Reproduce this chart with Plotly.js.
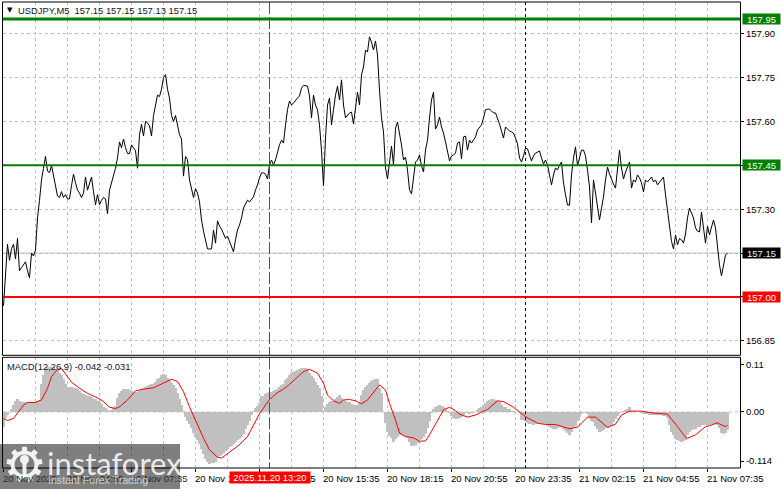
<!DOCTYPE html>
<html>
<head>
<meta charset="utf-8">
<script src="https://cdn.plot.ly/plotly-3.0.1.min.js"></script>
<style>html,body{margin:0;padding:0;background:#fff}#c{width:781px;height:489px}</style>
</head>
<body>
<div id="c"></div>
<script>
const firstBarTime = Date.UTC(2025,10,20,2,15);
const barMinutes = 5;
const closeValues = [
156.97,157.09,157.18,157.125,157.165,157.18,157.13,157.20,157.09,157.10,
157.11,157.12,157.09,157.065,157.15,157.14,157.16,157.27,157.33,157.40,
157.44,157.48,157.43,157.425,157.45,157.41,157.375,157.345,157.34,157.36,
157.34,157.35,157.335,157.335,157.38,157.42,157.39,157.365,157.355,157.34,
157.355,157.41,157.365,157.39,157.41,157.36,157.315,157.35,157.315,157.33,
157.34,157.335,157.285,157.365,157.39,157.41,157.44,157.475,157.53,157.51,
157.54,157.51,157.49,157.49,157.52,157.51,157.50,157.44,157.555,157.59,
157.55,157.60,157.595,157.585,157.55,157.62,157.65,157.69,157.685,157.71,
157.75,157.76,157.71,157.68,157.62,157.60,157.62,157.585,157.555,157.54,
157.413,157.48,157.47,157.40,157.365,157.34,157.37,157.355,157.325,157.263,
157.225,157.19,157.164,157.164,157.164,157.229,157.184,157.26,157.242,157.232,
157.215,157.20,157.208,157.188,157.174,157.154,157.195,157.229,157.246,157.27,
157.304,157.318,157.331,157.325,157.335,157.342,157.366,157.383,157.407,157.424,
157.424,157.42,157.403,157.451,157.468,157.451,157.468,157.50,157.52,157.536,
157.526,157.588,157.64,157.67,157.656,157.663,157.673,157.68,157.687,157.714,
157.723,157.723,157.721,157.687,157.612,157.69,157.656,157.64,157.588,157.50,
157.379,157.543,157.656,157.68,157.588,157.64,157.69,157.72,157.673,157.742,
157.656,157.612,157.622,157.629,157.632,157.591,157.646,157.70,157.656,157.759,
157.786,157.844,157.837,157.889,157.871,157.844,157.875,157.827,157.707,157.612,
157.564,157.441,157.403,157.461,157.516,157.451,157.577,157.598,157.564,157.519,
157.468,157.478,157.434,157.366,157.352,157.40,157.461,157.468,157.485,157.448,
157.427,157.502,157.536,157.612,157.673,157.70,157.574,157.588,157.615,157.581,
157.56,157.53,157.495,157.465,157.482,157.485,157.492,157.526,157.53,157.472,
157.547,157.55,157.502,157.536,157.526,157.536,157.547,157.571,157.581,157.588,
157.612,157.64,157.642,157.642,157.636,157.629,157.629,157.612,157.591,157.567,
157.543,157.581,157.574,157.567,157.564,157.56,157.543,157.523,157.475,157.461,
157.482,157.509,157.506,157.482,157.465,157.482,157.492,157.495,157.499,157.475,
157.454,157.468,157.451,157.417,157.383,157.417,157.441,157.434,157.451,157.461,
157.39,157.349,157.314,157.314,157.417,157.475,157.513,157.448,157.475,157.502,
157.502,157.482,157.434,157.376,157.253,157.40,157.355,157.307,157.263,157.304,
157.342,157.40,157.444,157.42,157.40,157.386,157.372,157.451,157.502,157.441,
157.403,157.427,157.448,157.461,157.372,157.40,157.393,157.417,157.407,157.39,
157.359,157.40,157.393,157.40,157.41,157.393,157.40,157.383,157.393,157.40,
157.41,157.349,157.29,157.229,157.19,157.164,157.212,157.178,157.20,157.195,
157.184,157.215,157.27,157.304,157.287,157.27,157.236,157.225,157.222,157.29,
157.236,157.184,157.242,157.212,157.239,157.263,157.236,157.167,157.109,157.072,
157.109,157.143,157.15];
const macdValues = [
-.034,-.015,-.007,0,.006,.016,.026,.029,.026,.024,
.024,.024,.024,.023,.024,.024,.024,.026,.028,.066,
.086,.099,.104,.105,.105,.104,.099,.097,.091,.086,
.076,.066,.059,.057,.057,.056,.055,.053,.049,.043,
.041,.039,.037,.036,.034,.031,.029,.026,.022,.018,
.012,.009,.004,.002,.005,.009,.014,.032,.043,.049,
.053,.053,.053,.051,.049,.047,.046,.046,.049,.053,
.056,.059,.060,.063,.065,.066,.070,.076,.080,.085,
.088,.085,.080,.074,.068,.063,.055,.043,.030,.016,
.002,-.012,-.020,-.028,-.038,-.049,-.057,-.065,-.074,-.087,
-.097,-.110,-.117,-.121,-.119,-.119,-.115,-.107,-.102,-.100,
-.096,-.090,-.087,-.082,-.079,-.075,-.070,-.066,-.063,-.059,
-.051,-.040,-.030,-.020,-.007,.002,.009,.014,.020,.037,
.038,.041,.043,.046,.047,.049,.050,.053,.059,.063,
.066,.074,.079,.085,.090,.093,.096,.098,.100,.101,
.101,.101,.099,.091,.084,.078,.070,.063,.056,.036,
.003,.011,.018,.024,.026,.026,.029,.034,.039,.033,
.028,.026,.024,.022,.019,.016,.016,.017,.020,.039,
.051,.059,.063,.068,.072,.074,.076,.077,.055,.043,
-.001,-.026,-.046,-.056,-.061,-.069,-.063,-.059,-.053,-.053,
-.056,-.057,-.060,-.069,-.079,-.080,-.077,-.071,-.066,-.063,
-.059,-.052,-.038,-.022,-.003,.008,.012,.014,.016,.015,
.012,.006,.002,-.003,-.009,-.015,-.016,-.016,-.015,-.011,
-.007,-.003,-.003,-.005,-.003,-.002,.001,.005,.009,.011,
.016,.020,.026,.028,.029,.030,.028,.026,.022,.016,
.012,.011,.008,.006,.003,.002,.001,0,-.002,-.019,
-.019,-.021,-.025,-.028,-.029,-.030,-.029,-.028,-.026,-.026,
-.027,-.029,-.032,-.035,-.037,-.039,-.040,-.038,-.036,-.036,
-.039,-.043,-.049,-.053,-.046,-.038,-.032,-.022,-.012,-.005,
-.002,.001,-.005,-.014,-.020,-.024,-.032,-.040,-.046,-.044,
-.042,-.038,-.035,-.032,-.030,-.024,-.017,-.009,-.003,.001,
.002,.005,.008,.011,.003,.001,0,-.001,-.001,-.002,
-.004,-.005,-.005,-.006,-.007,-.007,-.007,-.007,-.007,-.008,
-.009,-.010,-.015,-.030,-.046,-.053,-.063,-.065,-.067,-.069,
-.068,-.065,-.053,-.046,-.042,-.040,-.039,-.036,-.034,-.031,
-.030,-.030,-.031,-.030,-.029,-.028,-.029,-.031,-.038,-.049,
-.051,-.048,-.042];
const signalBars = [0,2,5,7,10,12,16,19,22,24,27,29,32,34,38,42,47,50,53,56,58,62,66,70,75,80,84,87,90,93,97,100,103,107,109,112,118,122,125,128,
131,133,137,140,143,147,150,153,157,160,162,165,168,170,173,176,179,182,186,188,191,193,196,198,201,205,208,211,213,217,220,223,226,228,232,236,242,247,250,255,258,
261,267,271,276,280,283,287,290,292,296,299,302,306,309,313,319,324,332,337,341,342,346,351,353,357,358,361,362];
const signalValues = [-.015,-.020,-.015,-.003,.016,.022,.022,.028,.055,.082,.099,.101,.082,.069,.055,.043,.033,.024,.011,.008,.012,.028,.049,.053,.056,.068,.076,.071,.047,.012,-.030,-.061,-.088,-.105,-.107,-.096,-.076,-.057,-.030,-.004,
.016,.029,.045,.053,.064,.080,.094,.099,.090,.067,.039,.026,.020,.028,.029,.026,.019,.028,.053,.063,.051,.020,-.019,-.049,-.057,-.060,-.068,-.067,-.053,-.019,.005,.011,.003,-.005,-.012,-.007,.006,.026,.024,.011,.001,
-.011,-.026,-.029,-.029,-.034,-.039,-.035,-.022,-.012,-.012,-.025,-.036,-.028,-.007,.002,.002,-.002,-.005,-.034,-.059,-.061,-.053,-.034,-.032,-.025,-.028,-.034,-.031];
const priceTicks = [157.90,157.75,157.60,157.45,157.30,157.15,157.00,156.85];
const macdTicks = [0.11,0,-0.114];
const macdTickText = ['0.11','0.00','-0.114'];
const levelValues = [157.95,157.45,157.00];
const levelColors = ['#008000','#008000','#ff0000'];
const levelWidths = [3,2,2];
const bidValue = 157.15;
const timeLabelBars = [0,32,64,96,128,160,192,224,256,288,320,352];
const timeLabelText = ['20 Nov 2025','20 Nov 04:55','20 Nov 07:35','20 Nov 10:15','20 Nov 12:55','20 Nov 15:35','20 Nov 18:15','20 Nov 20:55','20 Nov 23:35','21 Nov 02:15','21 Nov 04:55','21 Nov 07:35'];
const cursorBar = 133, cursorText = '2025.11.20 13:20';
const daySepBar = 261;
const headerText = 'USDJPY,M5  157.15 157.15 157.13 157.15';
const macdText = 'MACD(12,26,9) -0.042 -0.031';

const W=781,H=489,L=3,R=740,T=2,B=468;
const FONT='"Liberation Sans", Arial, sans-serif';
const FS=9.5;
const t = i => firstBarTime + i*barMinutes*60000;
const px = x => (x-L)/(R-L);
const py = y => (B-y)/(B-T);
const times = closeValues.map((_,i)=>t(i));

const traces = [
 {type:'bar',x:times,y:macdValues,width:times.map(()=>6*60000),xaxis:'x',yaxis:'y2',marker:{color:'#c0c0c0',line:{width:0}},hoverinfo:'skip'},
 {type:'scatter',mode:'lines',x:signalBars.map(t),y:signalValues,xaxis:'x',yaxis:'y2',line:{color:'#ff0000',width:1},hoverinfo:'skip'},
 {type:'scatter',mode:'lines',x:times,y:closeValues,xaxis:'x',yaxis:'y',line:{color:'#000000',width:1},hoverinfo:'skip'}
];

const shapes = [];
shapes.push({type:'line',xref:'paper',x0:0,x1:1,yref:'y',y0:bidValue,y1:bidValue,line:{color:'#c0c0c0',width:1},layer:'below'});
shapes.push({type:'line',xref:'paper',x0:0,x1:1,yref:'y2',y0:0,y1:0,line:{color:'#c0c0c0',width:1,dash:'3px,3px'},layer:'below'});
levelValues.forEach((v,i)=>shapes.push({type:'line',xref:'paper',x0:0,x1:1,yref:'y',y0:v,y1:v,line:{color:levelColors[i],width:levelWidths[i]}}));
[[2,355.3],[357.3,468]].forEach(p=>{
  shapes.push({type:'line',xref:'x',x0:t(cursorBar),x1:t(cursorBar),yref:'paper',y0:py(p[0]),y1:py(p[1]),line:{color:'#e0102a',width:1,dash:'12px,3px'}});
  shapes.push({type:'line',xref:'x',x0:t(daySepBar),x1:t(daySepBar),yref:'paper',y0:py(p[0]),y1:py(p[1]),line:{color:'#000',width:1,dash:'3px,3px'}});
  shapes.push({type:'rect',xref:'paper',yref:'paper',x0:px(2.5),x1:px(740.5),y0:py(p[0]),y1:py(p[1]),line:{color:'#000',width:1},fillcolor:'rgba(0,0,0,0)'});
});
// watermark
shapes.push({type:'rect',xref:'paper',yref:'paper',x0:px(0),x1:px(180),y0:py(444),y1:py(489),line:{width:0},fillcolor:'rgba(0,0,0,0.5)'});
function gearPath(cx,cy){
  let d='';const teeth=9,ro=18,ri=14;
  for(let k=0;k<teeth;k++){
    const a=k*2*Math.PI/teeth, w=0.17, g=0.19;
    [[a-g,ri],[a-w*0.8,ro],[a+w*0.8,ro],[a+g,ri]].forEach((q,j)=>{
      const X=px(cx+q[1]*Math.sin(q[0])),Y=py(cy-q[1]*Math.cos(q[0]));
      d+=(k==0&&j==0?'M':'L')+X+' '+Y+' ';
    });
  }
  d+='Z ';
  const hole=10;
  for(let k=0;k<24;k++){const a=k*2*Math.PI/24;d+=(k==0?'M':'L')+px(cx+hole*Math.sin(a))+' '+py(cy-hole*Math.cos(a))+' ';}
  return d+'Z';
}
shapes.push({type:'path',xref:'paper',yref:'paper',path:gearPath(24.5,464.5),fillcolor:'rgba(255,255,255,0.9)',line:{width:0}});
shapes.push({type:'circle',xref:'paper',yref:'paper',x0:px(20),x1:px(29),y0:py(455),y1:py(464),fillcolor:'rgba(255,255,255,0.9)',line:{width:0}});
shapes.push({type:'rect',xref:'paper',yref:'paper',x0:px(22.5),x1:px(26.5),y0:py(463),y1:py(478),fillcolor:'rgba(255,255,255,0.9)',line:{width:0}});

const ann=[];
const boxes=[[157.95,'157.95','#008000','#fff'],[157.45,'157.45','#008000','#fff'],[157.15,'157.15','#000','#e8f4ff'],[157.00,'157.00','#ff0000','#fff']];
boxes.forEach(b=>ann.push({xref:'paper',yref:'y',x:px(741.5),y:b[0],xanchor:'left',yanchor:'middle',text:b[1],showarrow:false,bgcolor:b[2],font:{family:FONT,size:FS,color:b[3]},width:37,height:10,borderpad:0,align:'center'}));
timeLabelBars.forEach((n,i)=>ann.push({xref:'x',yref:'paper',x:t(n),y:py(478),xanchor:'left',yanchor:'middle',xshift:-3,text:timeLabelText[i],showarrow:false,font:{family:FONT,size:FS,color:n<=64?'#2a2a2a':'#000'}}));
ann.push({xref:'x',yref:'paper',x:t(cursorBar),y:py(477.5),xanchor:'center',yanchor:'middle',text:cursorText,showarrow:false,bgcolor:'#ff0000',font:{family:FONT,size:FS,color:'#fff'},width:80,height:11,borderpad:0,align:'center'});
ann.push({xref:'paper',yref:'paper',x:px(16),y:py(10.5),xanchor:'left',yanchor:'middle',text:headerText.replace(/  /g,'\u00a0\u00a0'),showarrow:false,font:{family:FONT,size:9.4,color:'#101828'}});
ann.push({xref:'paper',yref:'paper',x:px(5),y:py(10.5),xanchor:'left',yanchor:'middle',text:'\u25BC',showarrow:false,font:{family:'"DejaVu Sans"',size:7,color:'#000'}});
ann.push({xref:'paper',yref:'paper',x:px(5),y:py(366.5),xanchor:'left',yanchor:'middle',text:macdText,showarrow:false,font:{family:FONT,size:9.4,color:'#101828'}});
ann.push({xref:'paper',yref:'paper',x:px(45),y:py(463),xanchor:'left',yanchor:'middle',text:'instaforex',showarrow:false,font:{family:'Lato, "Open Sans", sans-serif',size:31,color:'rgba(255,255,255,0.85)'}});
ann.push({xref:'paper',yref:'paper',x:px(46),y:py(480),xanchor:'left',yanchor:'middle',text:'Instant Forex Trading',showarrow:false,font:{family:'"Liberation Sans"',size:10.6,color:'rgba(255,255,255,0.65)'}});

const grid={gridcolor:'#c0c0c0',griddash:'3px,3px',gridwidth:1};
const layout={
 width:W,height:H,margin:{l:L,r:W-R,t:T,b:H-B,pad:0},
 paper_bgcolor:'#fff',plot_bgcolor:'#fff',showlegend:false,bargap:0,
 xaxis:Object.assign({type:'date',range:[t(-0.25),t(368.25)],tick0:t(0),dtick:160*60000,ticks:'outside',ticklen:3,tickcolor:'#000',showticklabels:false,showgrid:true,zeroline:false,showline:false,
   minor:{dtick:80*60000,tick0:t(0),showgrid:true,gridcolor:'#c0c0c0',griddash:'3px,3px',gridwidth:1,ticks:''},anchor:'y2'},grid),
 yaxis:Object.assign({domain:[(B-355.3)/(B-T),1],range:[156.8005,158.0082],side:'right',tickmode:'array',tickvals:priceTicks,ticktext:priceTicks.map(v=>v.toFixed(2)),ticks:'outside',ticklen:3,tickcolor:'#000',tickfont:{family:FONT,size:FS,color:'#000'},showgrid:true,zeroline:false,showline:false,anchor:'x'},grid),
 yaxis2:{domain:[0,(B-357.3)/(B-T)],range:[-0.130,0.1269],side:'right',tickmode:'array',tickvals:macdTicks,ticktext:macdTickText,ticks:'outside',ticklen:3,tickcolor:'#000',tickfont:{family:FONT,size:FS,color:'#000'},showgrid:false,zeroline:false,showline:false,anchor:'x'},
 shapes:shapes,annotations:ann
};
Plotly.newPlot('c',traces,layout,{staticPlot:true,displayModeBar:false});
</script>
</body>
</html>
